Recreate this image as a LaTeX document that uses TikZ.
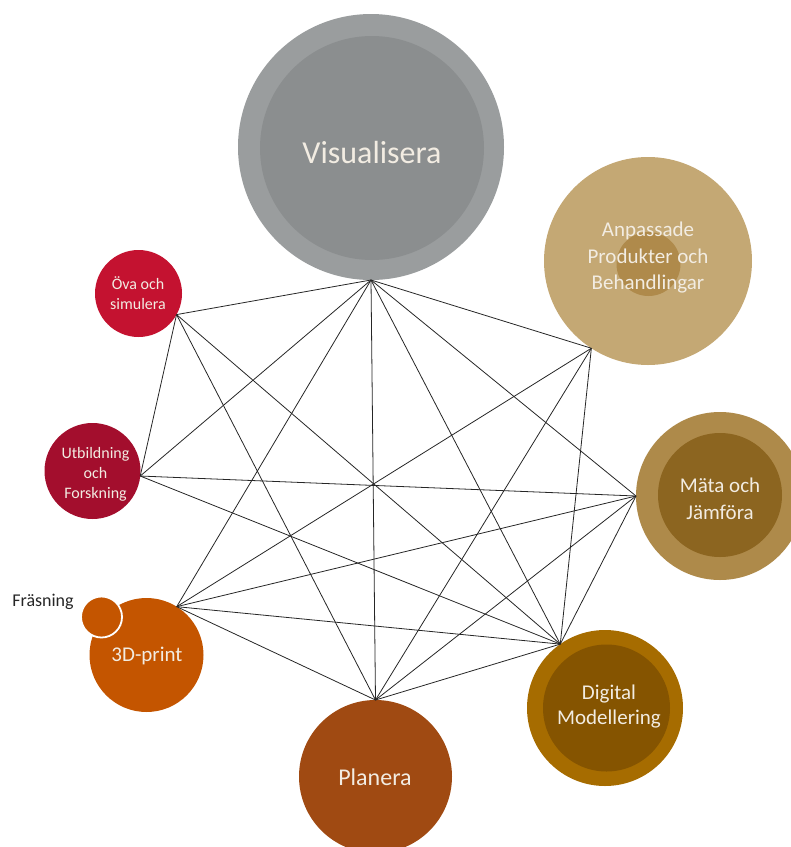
\documentclass[tikz,border=0pt]{standalone}
\usepackage{fontspec}
\setmainfont{Carlito}
\definecolor{visOut}{HTML}{9A9D9E}
\definecolor{visIn}{HTML}{8B8E8F}
\definecolor{anpOut}{HTML}{C4A874}
\definecolor{anpIn}{HTML}{AF8A4B}
\definecolor{matOut}{HTML}{AE8A4A}
\definecolor{matIn}{HTML}{8C6520}
\definecolor{digOut}{HTML}{A66C00}
\definecolor{digIn}{HTML}{855400}
\definecolor{planc}{HTML}{A04A12}
\definecolor{printc}{HTML}{C45500}
\definecolor{utbc}{HTML}{A30E2D}
\definecolor{ovac}{HTML}{C41230}
\definecolor{txt}{HTML}{F2ECE2}
\definecolor{lbl}{HTML}{262626}
\newcommand{\fsz}[2]{\fontsize{#1}{#2}\selectfont}
\begin{document}
\begin{tikzpicture}[x=1pt,y=-1pt,
  disc/.style={circle, inner sep=0pt, outer sep=0pt, minimum size=#1},
  words/.style={text=txt, align=center, inner sep=0pt},
  link/.style={line width=0.8pt, draw=black!85}]
\useasboundingbox (0,0) rectangle (791,847);

% circles
\node[disc=266pt, fill=visOut] (V) at (371,147) {};
\node[disc=224pt, fill=visIn] (Vi) at (372,148) {};
\node[disc=208pt, fill=anpOut] (A) at (648,261) {};
\node[disc=64pt, fill=anpIn] (Ai) at (648.5,264) {};
\node[disc=168pt, fill=matOut] (M) at (720,496) {};
\node[disc=124pt, fill=matIn] (Mi) at (720,495) {};
\node[disc=156pt, fill=digOut] (D) at (605,708) {};
\node[disc=127pt, fill=digIn] (Di) at (606.5,708) {};
\node[disc=153pt, fill=planc] (P) at (375.5,776.5) {};
\node[disc=114pt, fill=printc] (T) at (146.5,655) {};
\node[disc=41pt, fill=printc, draw=white, line width=1.8pt] (F) at (101.5,617) {};
\node[disc=96pt, fill=utbc] (U) at (92.5,471) {};
\node[disc=87pt, fill=ovac] (O) at (138.5,293.5) {};

% labels
\node[words, font=\fsz{32}{38}] (tV) at (372,152.5) {Visualisera};
\node[words, font=\fsz{21}{26.5}] (tA) at (648,258) {Anpassade\\Produkter och\\Behandlingar};
\node[words, font=\fsz{21}{27}] (tM) at (720,498.5) {Mäta och\\Jämföra};
\node[words, font=\fsz{21}{25}] (tD) at (609,707) {Digital\\Modellering};
\node[words, font=\fsz{24}{28}] (tP) at (375,777) {Planera};
\node[words, font=\fsz{21}{25}] (tT) at (147,655.5) {3D-print};
\node[words, font=\fsz{16}{20}] (tU) at (95.5,474) {Utbildning\\och\\Forskning};
\node[words, font=\fsz{16}{20}] (tO) at (138,293.5) {Öva och\\simulera};
\node[text=lbl, inner sep=0pt, font=\fsz{18}{22}] (tF) at (43,602) {Fräsning};

% connection points
\coordinate (pV) at (V.south);
\coordinate (pA) at (A.237.5);
\coordinate (pM) at (M.west);
\coordinate (pD) at (D.125);
\coordinate (pP) at (P.north);
\coordinate (pT) at (T.58);
\coordinate (pU) at (U.-6);
\coordinate (pO) at (O.-29);

\foreach \a/\b in {V/A,V/M,V/D,V/P,V/T,V/U,V/O,
                   A/T,A/P,A/D,
                   M/U,M/T,M/D,M/P,
                   D/P,D/T,D/U,D/O,
                   P/T,P/O,
                   U/O}
  \draw[link] (p\a) -- (p\b);
\end{tikzpicture}
\end{document}
